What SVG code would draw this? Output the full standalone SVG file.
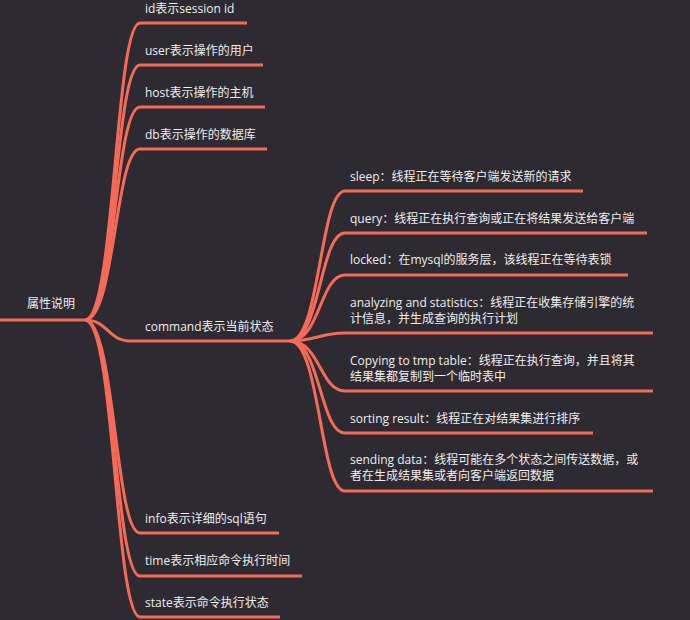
<svg xmlns="http://www.w3.org/2000/svg" width="690" height="620" viewBox="0 0 690 620">
<style>
.bg{fill:#2e2a31}
.ln{fill:none;stroke:#f56b58;stroke-width:3;stroke-linecap:butt}
text{font-family:'Open Sans','Noto Sans CJK SC',sans-serif;font-size:12px;fill:#eeeeee}
</style>
<rect class="bg" x="0" y="0" width="690" height="620"/>
<g id="connectors">
<path class="ln" d="M0 320 L85 320"/>
<path class="ln" d="M85 320 C115 320 115 23 140 23 L247 23"/>
<path class="ln" d="M85 320 C115 320 115 65 140 65 L263 65"/>
<path class="ln" d="M85 320 C115 320 115 107 140 107 L265 107"/>
<path class="ln" d="M85 320 C115 320 115 149 140 149 L267 149"/>
<path class="ln" d="M85 320 C108 320 108 341 130 341 L290 341"/>
<path class="ln" d="M85 320 C115 320 115 533 140 533 L279 533"/>
<path class="ln" d="M85 320 C115 320 115 576 140 576 L302 576"/>
<path class="ln" d="M85 320 C115 320 115 617 140 617 L280 617"/>
<path class="ln" d="M290 341 C320 341 320 191 345 191 L583 191"/>
<path class="ln" d="M290 341 C320 341 320 233 345 233 L647 233"/>
<path class="ln" d="M290 341 C320 341 320 275 345 275 L628 275"/>
<path class="ln" d="M290 341 C315 341 320 333 345 333 L653 333"/>
<path class="ln" d="M290 341 C320 341 320 391 345 391 L653 391"/>
<path class="ln" d="M290 341 C320 341 320 433 345 433 L593 433"/>
<path class="ln" d="M290 341 C320 341 320 491 345 491 L653 491"/>
</g>
<g id="root"><text x="27" y="307.5">属性说明</text></g>
<g id="n-id"><text x="145" y="12.5">id表示session id</text></g>
<g id="n-user"><text x="145" y="54.5">user表示操作的用户</text></g>
<g id="n-host"><text x="145" y="96.5">host表示操作的主机</text></g>
<g id="n-db"><text x="145" y="138.5">db表示操作的数据库</text></g>
<g id="n-command"><text x="145" y="330.5">command表示当前状态</text></g>
<g id="n-info"><text x="145" y="522.5">info表示详细的sql语句</text></g>
<g id="n-time"><text x="145" y="564.5">time表示相应命令执行时间</text></g>
<g id="n-state"><text x="145" y="606.5">state表示命令执行状态</text></g>
<g id="c-sleep"><text x="350" y="180.5">sleep：线程正在等待客户端发送新的请求</text></g>
<g id="c-query"><text x="350" y="222.5">query：线程正在执行查询或正在将结果发送给客户端</text></g>
<g id="c-locked"><text x="350" y="263.5">locked：在mysql的服务层，该线程正在等待表锁</text></g>
<g id="c-analyzing"><text x="350" y="306.5">analyzing and statistics：线程正在收集存储引擎的统</text><text x="350" y="322.5">计信息，并生成查询的执行计划</text></g>
<g id="c-copying"><text x="350" y="364.5">Copying to tmp table：线程正在执行查询，并且将其</text><text x="350" y="380.5">结果集都复制到一个临时表中</text></g>
<g id="c-sorting"><text x="350" y="422.5">sorting result：线程正在对结果集进行排序</text></g>
<g id="c-sending"><text x="350" y="463.5">sending data：线程可能在多个状态之间传送数据，或</text><text x="350" y="479.5">者在生成结果集或者向客户端返回数据</text></g>
</svg>
